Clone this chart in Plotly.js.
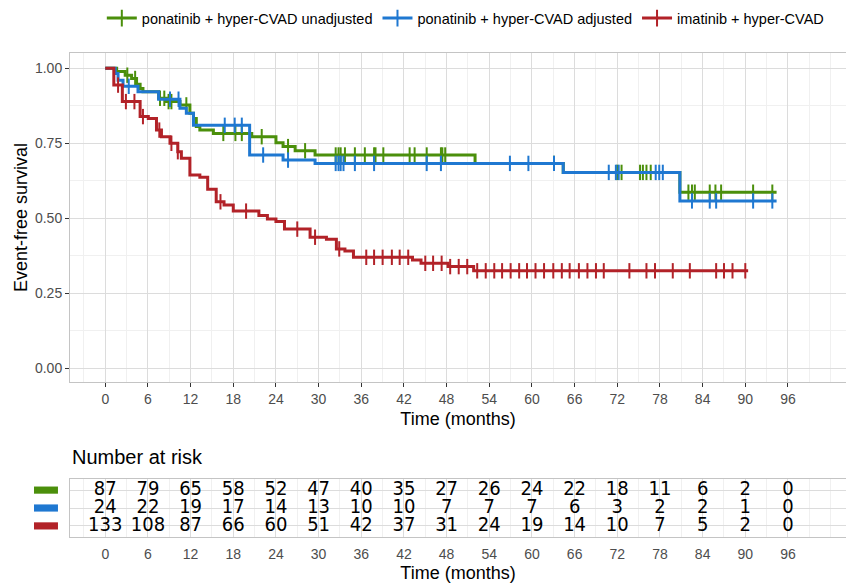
<!DOCTYPE html>
<html><head><meta charset="utf-8">
<script src="https://cdn.plot.ly/plotly-3.0.1.min.js"></script>
<style>html,body{margin:0;padding:0;background:#fff}#chart{width:846px;height:588px}</style>
</head><body><div id="chart"></div>
<script>
// ---- data ----
const seriesNames = ["ponatinib + hyper-CVAD unadjusted", "ponatinib + hyper-CVAD adjusted", "imatinib + hyper-CVAD"];
const seriesColors = ["#4b8f0b", "#1f78d1", "#b22228"];

const greenTimes = [0, 1.6, 2.8, 3.7, 4.4, 4.9, 5.3, 7.5, 8.6, 10.5, 11.9, 12.4, 12.8, 13.3, 15.2, 20.6, 24.0, 25.0, 26.7, 29.5, 52.0, 64.4, 80.8, 94.4];
const greenSurv  = [1.0, 0.989, 0.977, 0.966, 0.947, 0.933, 0.922, 0.900, 0.889, 0.878, 0.850, 0.833, 0.806, 0.794, 0.783, 0.772, 0.752, 0.739, 0.725, 0.711, 0.683, 0.653, 0.587, 0.587];
const greenCensor = [3.1, 4.2, 7.7, 8.3, 8.9, 9.3, 11.4, 16.6, 18.3, 19.2, 22.0, 25.7, 28.1, 32.4, 32.8, 33.1, 33.7, 35.1, 36.5, 37.8, 38.0, 39.1, 42.8, 43.5, 45.2, 47.2, 47.4, 47.8, 63.1, 72.0, 72.6, 75.2, 75.6, 76.1, 76.7, 82.0, 82.5, 82.9, 85.0, 85.8, 86.6, 91.1, 93.8];

const blueTimes = [0, 1.4, 1.8, 2.5, 4.6, 7.5, 10.5, 11.4, 12.4, 20.3, 25.0, 29.5, 64.4, 80.8, 94.4];
const blueSurv  = [1.0, 0.983, 0.960, 0.940, 0.922, 0.897, 0.867, 0.850, 0.810, 0.711, 0.694, 0.683, 0.653, 0.558, 0.558];
const blueCensor = [3.3, 9.1, 10.3, 16.8, 18.2, 19.2, 22.2, 25.7, 32.4, 32.8, 33.1, 33.5, 35.1, 37.8, 45.2, 47.2, 56.9, 59.5, 63.1, 70.8, 71.8, 72.2, 77.4, 77.9, 78.4, 82.5, 85.0, 85.9, 91.1, 93.8];

const redTimes = [0, 1.2, 2.4, 4.9, 6.05, 7.2, 7.9, 9.1, 10.2, 10.7, 11.9, 13.3, 14.4, 15.6, 16.7, 18.0, 21.6, 22.8, 24.0, 25.2, 28.8, 31.1, 32.5, 33.7, 34.9, 43.2, 44.4, 48.2, 51.8, 90.4];
const redSurv  = [1.0, 0.944, 0.889, 0.839, 0.833, 0.794, 0.772, 0.750, 0.722, 0.700, 0.644, 0.637, 0.597, 0.555, 0.544, 0.524, 0.509, 0.498, 0.489, 0.464, 0.437, 0.430, 0.398, 0.391, 0.370, 0.361, 0.350, 0.339, 0.325, 0.325];
const redCensor = [1.8, 2.9, 4.1, 5.3, 7.6, 9.3, 10.2, 16.2, 19.8, 27.0, 29.5, 32.9, 36.7, 37.8, 39.0, 40.3, 41.4, 42.6, 45.0, 46.1, 47.3, 48.5, 49.7, 50.9, 52.3, 53.5, 54.7, 55.8, 57.0, 58.2, 59.3, 60.5, 61.7, 63.0, 64.2, 65.3, 66.6, 67.8, 69.0, 70.1, 73.7, 76.1, 77.3, 79.8, 82.2, 85.9, 87.0, 88.2, 90.0];

const riskTimes = [0, 6, 12, 18, 24, 30, 36, 42, 48, 54, 60, 66, 72, 78, 84, 90, 96];
const riskGreen = [87, 79, 65, 58, 52, 47, 40, 35, 27, 26, 24, 22, 18, 11, 6, 2, 0];
const riskBlue  = [24, 22, 19, 17, 14, 13, 10, 10, 7, 7, 7, 6, 3, 2, 2, 1, 0];
const riskRed   = [133, 108, 87, 66, 60, 51, 42, 37, 31, 24, 19, 14, 10, 7, 5, 2, 0];

const xTicks = [0, 6, 12, 18, 24, 30, 36, 42, 48, 54, 60, 66, 72, 78, 84, 90, 96];
const yTicks = [0, 0.25, 0.5, 0.75, 1.0];
const yTickText = ["0.00", "0.25", "0.50", "0.75", "1.00"];

// ---- build ----
function survAt(times, surv, t) {
  let v = surv[0];
  for (let i = 0; i < times.length; i++) { if (times[i] <= t) v = surv[i]; }
  return v;
}
const curves = [
  {t: greenTimes, s: greenSurv, c: greenCensor},
  {t: blueTimes, s: blueSurv, c: blueCensor},
  {t: redTimes, s: redSurv, c: redCensor}
];
const riskRows = [riskGreen, riskBlue, riskRed];
const rowIndex = [3, 2, 1];

const NARROW = "'Liberation Sans Narrow', 'DejaVu Sans Condensed', 'Liberation Sans', Arial, sans-serif";
const BASE = "'Liberation Sans', Arial, sans-serif";

const traces = [];
curves.forEach((cv, i) => {
  traces.push({
    type: 'scatter', mode: 'lines', x: cv.t, y: cv.s,
    line: {shape: 'hv', color: seriesColors[i], width: 3},
    showlegend: false, hoverinfo: 'skip', xaxis: 'x', yaxis: 'y'
  });
  traces.push({
    type: 'scatter', mode: 'markers', x: cv.c, y: cv.c.map(t => survAt(cv.t, cv.s, t)),
    marker: {symbol: 'line-ns', size: 11, color: seriesColors[i], line: {color: seriesColors[i], width: 2}},
    showlegend: false, hoverinfo: 'skip', xaxis: 'x', yaxis: 'y'
  });
});
seriesNames.forEach((name, i) => {
  traces.push({
    type: 'scatter', mode: 'lines+markers', x: [null], y: [null], name: name,
    line: {color: seriesColors[i], width: 3},
    marker: {symbol: 'line-ns', size: 12, color: seriesColors[i], line: {color: seriesColors[i], width: 2}},
    showlegend: true, hoverinfo: 'skip', xaxis: 'x', yaxis: 'y'
  });
});
riskRows.forEach((row, i) => {
  traces.push({
    type: 'scatter', mode: 'text', x: riskTimes, y: riskTimes.map(() => rowIndex[i]),
    text: row.map(String), textposition: 'middle center',
    textfont: {family: NARROW, size: 20, color: '#000'},
    showlegend: false, hoverinfo: 'skip', xaxis: 'x2', yaxis: 'y2'
  });
});

const MAJ = '#dcdcdc', MIN = '#f0f0f0', LINE = '#c4c4c4';
const xr = [-4.96, 104.16];
const commonX = {
  range: xr, tickmode: 'array', tickvals: xTicks, ticktext: xTicks.map(String),
  showgrid: true, gridcolor: MAJ, gridwidth: 1, zeroline: false,
  minor: {dtick: 3, tick0: 0, showgrid: true, gridcolor: MIN, gridwidth: 1},
  showline: true, linecolor: LINE, linewidth: 1, mirror: true,
  tickfont: {size: 14, color: '#4d4d4d', family: BASE}
};

const layout = {
  width: 846, height: 588,
  margin: {l: 70, r: 0, t: 53, b: 51, pad: 0},
  paper_bgcolor: '#fff', plot_bgcolor: '#fff',
  font: {family: BASE, color: '#000'},
  hovermode: false,
  showlegend: true,
  legend: {orientation: 'h', x: 0.041, xanchor: 'left', y: 1.105, yanchor: 'top',
    font: {size: 14.5, color: '#000', family: BASE}, bgcolor: 'rgba(0,0,0,0)', itemwidth: 30},
  xaxis: Object.assign({}, commonX, {
    anchor: 'y', ticks: 'outside', ticklen: 4, tickcolor: '#333', tickwidth: 1,
    title: {text: 'Time (months)', font: {size: 18, color: '#000'}, standoff: 6}
  }),
  yaxis: {
    domain: [0.3202, 1], range: [-0.0457, 1.051], anchor: 'x',
    tickmode: 'array', tickvals: yTicks, ticktext: yTickText,
    ticks: 'outside', ticklen: 4, tickcolor: '#333', tickwidth: 1,
    showgrid: true, gridcolor: MAJ, gridwidth: 1, zeroline: false,
    minor: {dtick: 0.125, tick0: 0, showgrid: true, gridcolor: MIN, gridwidth: 1},
    showline: true, linecolor: LINE, linewidth: 1, mirror: false,
    tickfont: {size: 14, color: '#4d4d4d'},
    title: {text: 'Event-free survival', font: {size: 18, color: '#000'}, standoff: 2}
  },
  xaxis2: Object.assign({}, commonX, {
    anchor: 'y2', ticks: 'outside', ticklen: 4, tickcolor: 'rgba(0,0,0,0)',
    title: {text: 'Time (months)', font: {size: 18, color: '#000'}, standoff: 5}
  }),
  yaxis2: {
    domain: [0, 0.1198], range: [0.38, 3.62], anchor: 'x2',
    tickmode: 'array', tickvals: [1, 2, 3], showticklabels: false, ticks: '',
    showgrid: true, gridcolor: MAJ, gridwidth: 1, zeroline: false,
    showline: true, linecolor: LINE, linewidth: 1, mirror: false
  },
  annotations: [{
    xref: 'paper', yref: 'paper', x: 0, y: 0.1653, xanchor: 'left', yanchor: 'middle',
    text: 'Number at risk', showarrow: false, font: {size: 20, color: '#000', family: BASE}
  }],
  shapes: rowIndex.map((r, i) => ({
    type: 'rect', xref: 'paper', yref: 'y2', x0: -0.0464, x1: -0.0155, y0: r - 0.2, y1: r + 0.2,
    fillcolor: seriesColors[i], line: {width: 0}, layer: 'above'
  }))
};

Plotly.newPlot('chart', traces, layout, {displayModeBar: false, staticPlot: true});
</script></body></html>
